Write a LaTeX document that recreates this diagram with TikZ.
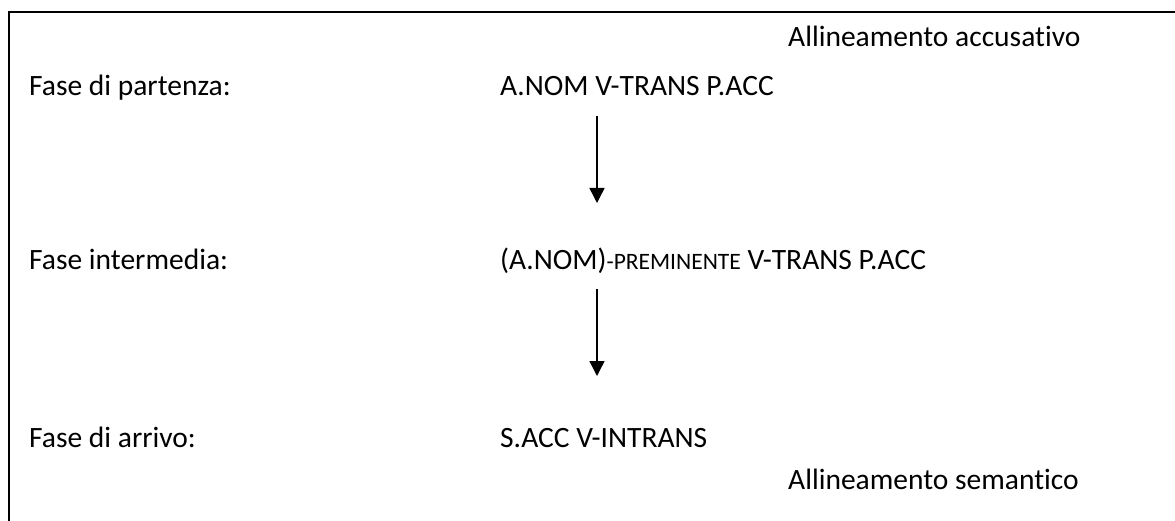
\documentclass[tikz,border=0pt]{standalone}
\usepackage{fontspec}
\setmainfont[Ligatures=NoCommon]{Carlito}
\usetikzlibrary{arrows.meta}
\begin{document}
\begin{tikzpicture}[x=1pt,y=-1pt,
  lbl/.style={anchor=base west,inner sep=0pt,font=\fontsize{29.5}{35}\selectfont},
  flow/.style={line width=1.5pt,-{Triangle[width=15pt,length=15pt]}},
  frame/.style={line width=1.5pt}]
\useasboundingbox (0,0) rectangle (1175,521);
\draw[frame] (9,521) -- (9,12) -- (1175,12);
\node[lbl] (acc) at (788,47) {Allineamento accusativo};
\node[lbl] (f1) at (29,96) {Fase di partenza:};
\node[lbl] (e1) at (500,96) {A.NOM V-TRANS P.ACC};
\node[lbl] (f2) at (29,270) {Fase intermedia:};
\node[lbl] (e2) at (500,270) {(A.NOM){\fontsize{23.5}{27}\selectfont -PREMINENTE} V-TRANS P.ACC};
\node[lbl] (f3) at (29,447) {Fase di arrivo:};
\node[lbl] (e3) at (500,447) {S.ACC V-INTRANS};
\node[lbl] (sem) at (788,489) {Allineamento semantico};
\coordinate (a1s) at (597,116);
\coordinate (a1e) at (597,203);
\coordinate (a2s) at (597,289);
\coordinate (a2e) at (597,376);
\draw[flow] (a1s) -- (a1e);
\draw[flow] (a2s) -- (a2e);
\end{tikzpicture}
\end{document}
